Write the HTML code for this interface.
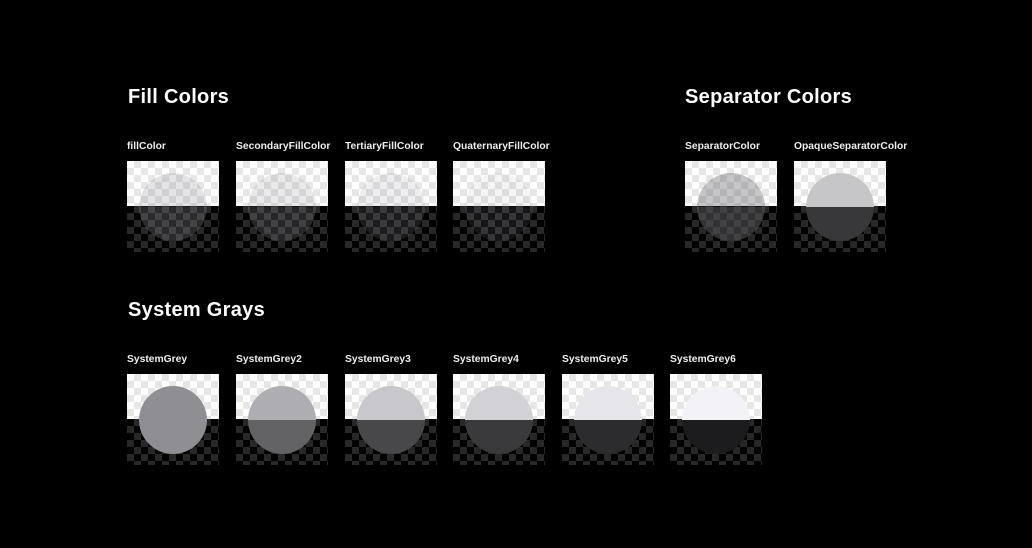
<!DOCTYPE html>
<html><head><meta charset="utf-8"><style>
body{margin:0;width:1032px;height:548px;background:#000;overflow:hidden;font-family:"Liberation Sans",sans-serif;color:#fff;position:relative}
.h{position:absolute;font-size:20px;font-weight:bold;letter-spacing:0.3px;line-height:20px}
.l{position:absolute;font-size:10.3px;font-weight:bold;line-height:10px;color:#eee}
.sw{position:absolute;width:92px;height:91px}
.t{position:absolute;left:0;top:0;width:92px;height:45px;background-color:#fff;background-image:conic-gradient(#e6e6e6 25%,transparent 0 50%,#e6e6e6 0 75%,transparent 0);background-size:14px 14px}
.b{position:absolute;left:0;top:45px;width:92px;height:46px;background-color:#000;background-image:conic-gradient(#282828 25%,transparent 0 50%,#282828 0 75%,transparent 0);background-size:14px 14px}
.c{position:absolute;left:12px;top:12px;width:68px;height:68px;border-radius:50%}
</style></head><body>
<div class="h" style="left:128px;top:87px">Fill Colors</div>
<div class="h" style="left:685px;top:87px">Separator Colors</div>
<div class="h" style="left:128px;top:300px">System Grays</div>
<div id="root"></div>
<script>
const names=["fillColor","SecondaryFillColor","TertiaryFillColor","QuaternaryFillColor","SeparatorColor","OpaqueSeparatorColor","SystemGrey","SystemGrey2","SystemGrey3","SystemGrey4","SystemGrey5","SystemGrey6"];
const lightColors=["rgba(120,120,128,0.2)","rgba(120,120,128,0.16)","rgba(118,118,128,0.12)","rgba(116,116,128,0.08)","rgba(60,60,67,0.29)","#c6c6c8","#8e8e93","#aeaeb2","#c7c7cc","#d1d1d6","#e5e5ea","#f2f2f7"];
const darkColors=["rgba(120,120,128,0.36)","rgba(120,120,128,0.32)","rgba(118,118,128,0.24)","rgba(118,118,128,0.18)","rgba(84,84,88,0.6)","#38383a","#8e8e93","#636366","#48484a","#3a3a3c","#2c2c2e","#1c1c1e"];
const xs=[127,236,345,453,685,794,127,236,345,453,562,670];
const root=document.getElementById('root');
names.forEach((n,i)=>{
 const y=i<6?161:374;
 const lab=document.createElement('div');lab.className='l';lab.textContent=n;
 lab.style.left=xs[i]+'px';lab.style.top=(y-19)+'px';
 
 
 root.appendChild(lab);
 const sw=document.createElement('div');sw.className='sw';sw.style.left=xs[i]+'px';sw.style.top=y+'px';
 
 
 sw.innerHTML='<div class="t"></div><div class="b"></div>';
 const c=document.createElement('div');c.className='c';
 c.style.background='linear-gradient(to bottom,'+lightColors[i]+' 50%,'+darkColors[i]+' 50%)';
 
 
 sw.appendChild(c);
 root.appendChild(sw);
});
</script>
</body></html>
